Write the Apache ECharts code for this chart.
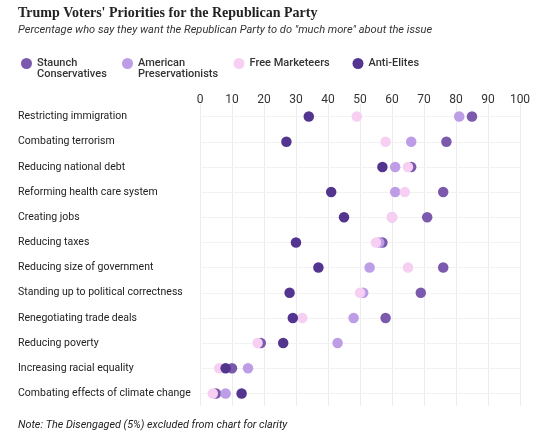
<!DOCTYPE html>
<html><head><meta charset="utf-8">
<script src="https://cdn.jsdelivr.net/npm/echarts@6/dist/echarts.min.js"></script>
<style>html,body{margin:0;padding:0;background:#fff}#c{width:540px;height:448px}</style>
</head><body><div id="c"></div>
<script>
const categories = [
  "Restricting immigration",
  "Combating terrorism",
  "Reducing national debt",
  "Reforming health care system",
  "Creating jobs",
  "Reducing taxes",
  "Reducing size of government",
  "Standing up to political correctness",
  "Renegotiating trade deals",
  "Reducing poverty",
  "Increasing racial equality",
  "Combating effects of climate change"
];
const xTicks = [0,10,20,30,40,50,60,70,80,90,100];
const staunchConservatives = [85,77,66,76,71,57,76,69,58,19,10,5];
const americanPreservationists = [81,66,61,61,60,56,53,51,48,43,15,8];
const freeMarketeers = [49,58,65,64,60,55,65,50,32,18,6,4];
const antiElites = [34,27,57,41,45,30,37,28,29,26,8,13];

const seriesNames = ["Staunch Conservatives","American Preservationists","Free Marketeers","Anti-Elites"];
const legendLabels = ["\nStaunch\nConservatives","\nAmerican\nPreservationists","Free Marketeers","Anti-Elites"];
const colors = ["#7b5aae","#bc9de6","#f6cff2","#533590"];
const seriesData = [staunchConservatives, americanPreservationists, freeMarketeers, antiElites];
const legendLeft = [21, 122, 233.5, 352.5];
const legendTop = [47, 47, 58, 58];

const chart = echarts.init(document.getElementById('c'), null, {renderer:'canvas'});
const series = seriesData.map((vals, i) => ({
  name: seriesNames[i],
  type: 'scatter',
  symbolSize: 10.5,
  itemStyle: {color: colors[i], opacity: 1},
  z: 3 + i,
  data: vals.map((v, j) => [v, categories[j]]),
  markLine: i === 0 ? {
    silent: true, symbol: 'none', label: {show: false},
    lineStyle: {color: '#f2f2f2', width: 1, type: 'solid'},
    data: categories.map(c => ({yAxis: c})),
    z: 1
  } : undefined
}));

chart.setOption({
  animation: false,
  textStyle: {fontFamily: 'Roboto, "Liberation Sans", sans-serif'},
  title: [
    {text: "Trump Voters' Priorities for the Republican Party", left: 18, top: 6, padding: 0,
     textStyle: {fontFamily: '"Liberation Serif", serif', fontWeight: 'bold', fontSize: 14, color: '#222'}},
    {text: 'Percentage who say they want the Republican Party to do "much more" about the issue', left: 18, top: 25, padding: 0,
     textStyle: {fontFamily: 'Roboto, sans-serif', fontStyle: 'italic', fontWeight: 'normal', fontSize: 11.1, color: '#333'}},
    {text: 'Note: The Disengaged (5%) excluded from chart for clarity', left: 18, top: 420, padding: 0,
     textStyle: {fontFamily: 'Roboto, sans-serif', fontStyle: 'italic', fontWeight: 'normal', fontSize: 10.8, color: '#222'}}
  ],
  legend: seriesNames.map((n, i) => ({
    data: [n], left: legendLeft[i], top: legendTop[i], padding: 0,
    icon: 'circle', itemWidth: 11, itemHeight: 11, itemGap: 0,
    selectedMode: false,
    formatter: () => legendLabels[i],
    textStyle: {fontSize: 11, fontWeight: 500, color: '#333', lineHeight: 11, fontFamily: 'Roboto, sans-serif'}
  })),
  grid: {left: 200, right: 20, top: 104, height: 302, containLabel: false},
  xAxis: {
    type: 'value', position: 'top', min: 0, max: 100, interval: 10,
    axisLine: {show: false}, axisTick: {show: false},
    axisLabel: {color: '#333', fontSize: 12, margin: -2, formatter: v => xTicks.includes(v) ? String(v) : ''},
    splitLine: {show: true, lineStyle: {color: '#ececec', width: 1}}
  },
  yAxis: {
    type: 'category', data: categories, inverse: true,
    axisLine: {show: false}, axisTick: {show: false},
    splitLine: {show: false},
    axisLabel: {align: 'left', margin: 182, color: '#222', fontSize: 10.5}
  },
  series: series
});
</script></body></html>
